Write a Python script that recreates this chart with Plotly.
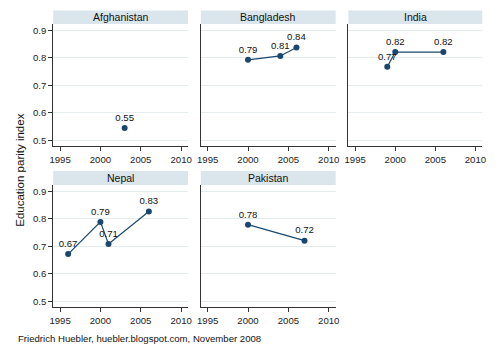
import plotly.graph_objects as go

countries = ["Afghanistan", "Bangladesh", "India", "Nepal", "Pakistan"]
years = {
    "Afghanistan": [2003],
    "Bangladesh": [2000, 2004, 2006],
    "India": [1999, 2000, 2006],
    "Nepal": [1996, 2000, 2001, 2006],
    "Pakistan": [2000, 2007],
}
values = {
    "Afghanistan": [0.545],
    "Bangladesh": [0.793, 0.807, 0.838],
    "India": [0.768, 0.821, 0.821],
    "Nepal": [0.672, 0.789, 0.709, 0.827],
    "Pakistan": [0.779, 0.721],
}
x_ticks = [1995, 2000, 2005, 2010]
y_ticks = [0.5, 0.6, 0.7, 0.8, 0.9]
y_title = "Education parity index"
note = "Friedrich Huebler, huebler.blogspot.com, November 2008"

W, H = 500, 350
col_px = [(50, 187), (200, 337), (350, 486)]
row_px = [(24, 146, 10.5), (185, 307, 171)]  # plot top, plot bottom, strip top

navy = "#1a476f"
font = "Liberation Sans, Arial, sans-serif"

fig = go.Figure()
layout = dict(
    width=W, height=H, margin=dict(l=0, r=0, t=0, b=0),
    paper_bgcolor="white", plot_bgcolor="white", showlegend=False,
    font=dict(family=font, size=9.6, color="#000"),
)
shapes, annotations = [], []

for i, c in enumerate(countries):
    r, k = divmod(i, 3)
    n = i + 1
    xa = "xaxis" if n == 1 else f"xaxis{n}"
    ya = "yaxis" if n == 1 else f"yaxis{n}"
    xr = "x" if n == 1 else f"x{n}"
    yr = "y" if n == 1 else f"y{n}"
    x0, x1 = col_px[k]
    top, bot, stop = row_px[r]
    dx = [x0 / W, x1 / W]
    dy = [(H - bot) / H, (H - top) / H]
    layout[xa] = dict(
        domain=dx, anchor=yr, range=[1994.15, 2010.85], tickvals=x_ticks,
        showline=True, linecolor="#333", linewidth=1, ticks="outside",
        ticklen=4, tickcolor="#333", showgrid=False, zeroline=False,
        tickfont=dict(size=9.6, color="#222"),
    )
    layout[ya] = dict(
        domain=dy, anchor=xr, range=[0.48, 0.923], tickvals=y_ticks,
        ticktext=[f"{v:.1f}" for v in y_ticks],
        showline=True, linecolor="#333", linewidth=1,
        ticks="outside" if k == 0 else "", ticklen=4, tickcolor="#333",
        showticklabels=(k == 0), showgrid=True, gridcolor="#e3eded",
        gridwidth=1, zeroline=False, tickfont=dict(size=9.6, color="#222"),
    )
    fig.add_trace(go.Scatter(
        x=years[c], y=values[c], xaxis=xr, yaxis=yr,
        mode="lines+markers+text",
        line=dict(color=navy, width=1.2),
        marker=dict(color=navy, size=6),
        text=[f"{v:.2f}" for v in values[c]], textposition="top center",
        textfont=dict(size=9.6, color="#111"), cliponaxis=False,
    ))
    shapes.append(dict(
        type="rect", xref="paper", yref="paper",
        x0=dx[0], x1=dx[1], y0=(H - top) / H, y1=(H - stop) / H,
        fillcolor="#dae5ec", line=dict(width=0), layer="below",
    ))
    annotations.append(dict(
        text=c, xref="paper", yref="paper", x=sum(dx) / 2,
        y=(H - (top + stop) / 2) / H, showarrow=False,
        xanchor="center", yanchor="middle", font=dict(size=10.5, color="#111"),
    ))

annotations.append(dict(
    text=y_title, xref="paper", yref="paper", x=16 / W, y=(H - 170) / H,
    textangle=-90, showarrow=False, xanchor="center", yanchor="middle",
    font=dict(size=11.5, color="#111"),
))
annotations.append(dict(
    text=note, xref="paper", yref="paper", x=12 / W, y=(H - 338) / H,
    showarrow=False, xanchor="left", yanchor="middle",
    font=dict(size=9.6, color="#111"),
))
layout["shapes"] = shapes
layout["annotations"] = annotations
fig.update_layout(**layout)
fig.write_html("out.html")
